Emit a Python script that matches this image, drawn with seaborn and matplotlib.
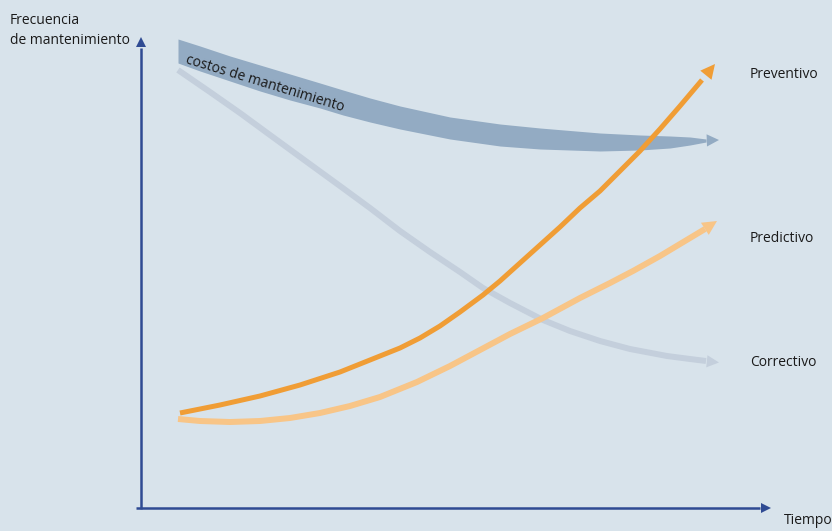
import numpy as np
import pandas as pd
import matplotlib
matplotlib.use("Agg")
import matplotlib.pyplot as plt
from matplotlib.patches import FancyArrowPatch
import seaborn as sns

# curve points (x = tiempo, y = frecuencia; pixel-like units)
prev_x = [180, 220, 260, 300, 340, 380, 400, 420, 440, 460, 483, 500, 520, 540, 560, 580, 600, 613, 640, 660, 680, 702]
prev_y = [413, 405, 396, 385, 372, 356, 348, 338, 326, 312, 295, 281, 263, 245, 227, 208, 191, 178, 151, 129, 106, 80]
pred_x = [178, 200, 230, 260, 290, 320, 350, 380, 417, 450, 480, 510, 543, 580, 610, 633, 660, 690, 705]
pred_y = [419, 421, 422, 421, 418, 413, 406, 397, 382, 366, 350, 334, 318, 298, 283, 271, 256, 238, 229]
corr_x = [178, 210, 240, 270, 307, 340, 370, 400, 430, 460, 483, 510, 543, 570, 600, 630, 667, 690, 706]
corr_y = [70, 92, 113, 135, 162, 186, 208, 231, 252, 272, 288, 303, 320, 331, 341, 349, 356, 359, 361]
band_x = [178, 200, 230, 260, 290, 320, 343, 370, 400, 450, 500, 540, 600, 640, 670, 690, 706]
band_top = [39, 46, 56, 65, 74, 83, 90, 98, 106, 117, 124, 128, 133, 135, 136, 137, 139]
band_bot = [63, 71, 81, 91, 100, 108, 115, 122, 129, 139, 146, 149, 151, 150, 148, 145, 142]

etiquetas = ["Preventivo", "Predictivo", "Correctivo"]
etiqueta_y = [75, 239, 362]

bg = "#d8e3eb"
c_prev = "#f09d35"
c_pred = "#f8c587"
c_corr = "#c4cfdc"
c_band = "#93abc3"
c_axis = "#2f4b93"

sns.set_theme(style="white")
plt.rcParams["font.family"] = ["Open Sans", "DejaVu Sans"]

fig = plt.figure(figsize=(8.32, 5.31), dpi=100, facecolor=bg)
ax = fig.add_axes([0, 0, 1, 1])
ax.set_facecolor(bg)
ax.set_xlim(0, 832)
ax.set_ylim(531, 0)
ax.axis("off")


def arrow_head(p0, p1, color, scale=25):
    ax.add_patch(FancyArrowPatch(p0, p1, arrowstyle="-|>", color=color, lw=0,
                                 mutation_scale=scale, shrinkA=0, shrinkB=0))


# cost band
ax.fill_between(band_x, band_top, band_bot, color=c_band, lw=0)
arrow_head((704, 140.5), (719, 140), c_band, 22)
ax.text(265, 84, "costos de mantenimiento", rotation=-17, fontsize=10,
        ha="center", va="center", color="#1a1a1a")

# curves
df = pd.concat([
    pd.DataFrame({"x": corr_x, "y": corr_y, "tipo": "Correctivo"}),
    pd.DataFrame({"x": pred_x, "y": pred_y, "tipo": "Predictivo"}),
    pd.DataFrame({"x": prev_x, "y": prev_y, "tipo": "Preventivo"}),
])
widths = {"Correctivo": 4.3, "Predictivo": 4.3, "Preventivo": 3.6}
colors = {"Correctivo": c_corr, "Predictivo": c_pred, "Preventivo": c_prev}
for tipo in ["Correctivo", "Predictivo", "Preventivo"]:
    d = df[df["tipo"] == tipo]
    sns.lineplot(data=d, x="x", y="y", ax=ax, color=colors[tipo],
                 lw=widths[tipo], sort=False, estimator=None,
                 solid_capstyle="butt", solid_joinstyle="round", legend=False)

arrow_head((corr_x[-1] - 2, corr_y[-1]), (719, 362.5), c_corr, 22)
arrow_head((pred_x[-1] - 2, pred_y[-1] + 1), (717, 221), c_pred, 26)
arrow_head((prev_x[-1] - 2, prev_y[-1] + 2.5), (715, 64), c_prev, 26)

for lab, yy in zip(etiquetas, etiqueta_y):
    ax.text(750, yy, lab, fontsize=10, ha="left", va="center", color="#1a1a1a")

# axes
ax.plot([141, 141], [509, 48], color=c_axis, lw=1.8, solid_capstyle="butt")
arrow_head((141, 50), (141, 37), c_axis, 18)
ax.plot([136, 760], [508, 508], color=c_axis, lw=1.8, solid_capstyle="butt")
arrow_head((758, 508), (771, 508), c_axis, 18)

ax.text(10, 20, "Frecuencia", fontsize=10, ha="left", va="center", color="#1a1a1a")
ax.text(10, 40, "de mantenimiento", fontsize=10, ha="left", va="center", color="#1a1a1a")
ax.text(784, 521, "Tiempo", fontsize=10, ha="left", va="center", color="#1a1a1a")

fig.savefig("out.png", dpi=100, facecolor=bg)
